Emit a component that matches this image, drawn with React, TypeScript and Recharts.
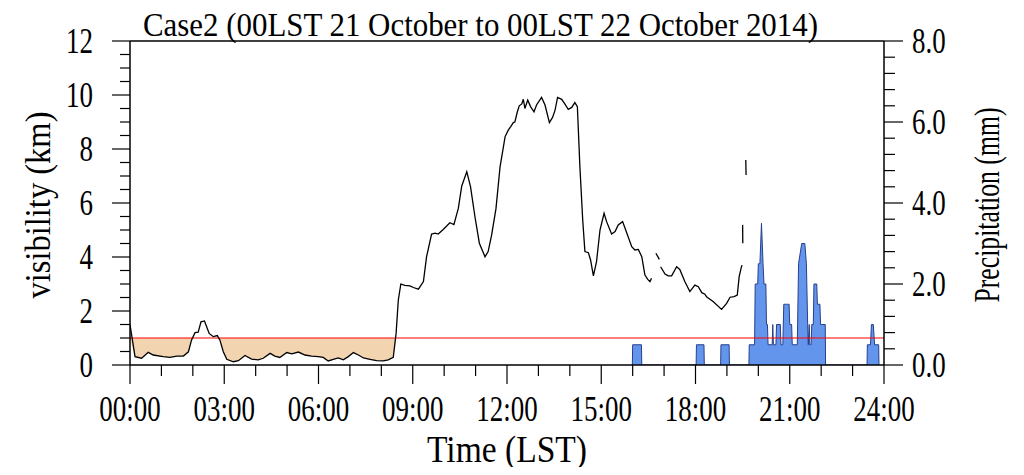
import { ComposedChart, Line, Area, XAxis, YAxis, ReferenceLine } from 'recharts'

// visibility (km), time in hours LST; null = missing
const visTime = [
  0, 0.16, 0.37, 0.58, 0.74, 1.06, 1.27, 1.49, 1.7, 1.86, 1.96, 2.07, 2.17, 2.26, 2.37, 2.44, 2.52, 2.65, 2.78, 2.86,
  2.97, 3.08, 3.29, 3.45, 3.66, 3.87, 4.08, 4.24, 4.46, 4.61, 4.77, 4.99, 5.15, 5.36, 5.57, 5.78, 5.99, 6.15, 6.31, 6.47,
  6.63, 6.79, 6.95, 7.11, 7.27, 7.43, 7.64, 7.85, 8.06, 8.22, 8.38, 8.47, 8.54, 8.62, 8.75, 8.91, 9.02, 9.18, 9.34, 9.44,
  9.6, 9.71, 9.81, 9.97, 10.18, 10.31, 10.45, 10.56, 10.72, 10.84, 10.98, 11.12, 11.3, 11.4, 11.51, 11.65, 11.78, 11.94, 12.04, 12.12,
  12.2, 12.25, 12.33, 12.39, 12.47, 12.52, 12.57, 12.66, 12.75, 12.86, 12.94, 13.1, 13.21, 13.35, 13.45, 13.53, 13.61, 13.74, 13.84, 13.95,
  14.06, 14.16, 14.24, 14.32, 14.41, 14.48, 14.59, 14.66, 14.75, 14.85, 14.96, 15.09, 15.17, 15.33, 15.44, 15.54, 15.68, 15.81, 15.97, 16.07,
  16.18, 16.29, 16.39, 16.48, 16.55, 16.6, 16.67, 16.74, 16.85, 16.87, 16.89, 17.03, 17.13, 17.24, 17.4, 17.5, 17.66, 17.82, 17.98, 18.09,
  18.2, 18.3, 18.35, 18.56, 18.83, 18.99, 19.1, 19.23, 19.33, 19.39, 19.45, 19.48, 19.49, 19.5, 19.505, 19.55, 19.6, 19.61, 19.65,
]
const visKm: (number | null)[] = [
  1.5, 0.31, 0.25, 0.47, 0.37, 0.31, 0.28, 0.33, 0.33, 0.49, 0.93, 1.2, 1.22, 1.6, 1.63, 1.42, 1.17, 1.05, 1.09, 0.93,
  0.49, 0.21, 0.12, 0.16, 0.35, 0.22, 0.19, 0.25, 0.43, 0.33, 0.28, 0.46, 0.41, 0.48, 0.37, 0.33, 0.31, 0.28, 0.15, 0.21,
  0.26, 0.19, 0.31, 0.46, 0.37, 0.26, 0.21, 0.16, 0.15, 0.19, 0.28, 1.17, 2.4, 3.0, 2.95, 2.93, 2.87, 2.81, 3.09, 4.01,
  4.85, 4.88, 4.85, 5.02, 5.27, 5.2, 5.8, 6.63, 7.16, 6.6, 5.49, 4.51, 4.01, 4.2, 4.81, 5.8, 7.35, 8.46, 8.7, 8.83,
  8.98, 9.0, 9.38, 9.6, 9.67, 9.84, 9.5, 9.81, 9.57, 9.38, 9.63, 9.91, 9.63, 8.98, 9.17, 9.44, 9.91, 9.84, 9.67, 9.47,
  9.54, 9.72, 9.57, 7.35, 5.37, 4.2, 4.16, 3.89, 3.3, 3.83, 5.0, 5.62, 5.31, 4.85, 4.94, 5.19, 5.31, 4.9, 4.38, 4.26,
  4.28, 4.01, 3.33, 3.17, 3.09, 3.21, null, 4.14, 3.91, null, 3.64, 3.37, 3.3, 3.3, 3.64, 3.54, 3.09, 2.72, 2.96, 2.9,
  2.68, 2.62, 2.53, 2.35, 2.06, 2.28, 2.51, 2.53, 2.59, 3.27, 3.58, 3.7, null, 5.19, 4.51, null, 7.59, 7.04, null,
]

// precipitation (mm), outline breakpoints
const rainTime = [
  15.99, 16.0, 16.28, 16.29,
  18.02, 18.03, 18.27, 18.28,
  18.8, 18.81, 19.07, 19.08,
  19.7, 19.71, 19.88, 19.9, 19.98, 20.0, 20.05, 20.1, 20.15, 20.18, 20.24, 20.26, 20.29, 20.31, 20.44, 20.46, 20.48, 20.56,
  20.58, 20.7, 20.72, 20.78, 20.81, 20.86, 20.89, 20.93, 20.98, 21.0, 21.06, 21.08, 21.24, 21.28, 21.38, 21.48, 21.53, 21.57, 21.59, 21.62,
  21.64, 21.68, 21.7, 21.75, 21.77, 21.86, 21.88, 21.96, 21.98, 22.13, 22.14,
  23.46, 23.47, 23.57, 23.6, 23.66, 23.7, 23.83, 23.84,
]
const rainMm = [
  0, 0.5, 0.5, 0,
  0, 0.5, 0.5, 0,
  0, 0.5, 0.5, 0,
  0, 0.5, 0.5, 2.0, 2.0, 2.5, 2.5, 3.5, 2.5, 2.0, 2.0, 1.0, 1.0, 0.5, 0.5, 1.0, 0.5, 0.5,
  1.0, 1.0, 0.5, 0.5, 1.5, 1.5, 1.5, 1.5, 1.5, 1.0, 1.0, 0.5, 0.5, 2.5, 3.0, 3.0, 2.5, 1.0, 0.5, 1.0,
  0.5, 0.5, 1.0, 1.0, 2.0, 2.0, 1.5, 1.5, 1.0, 1.0, 0,
  0, 0.5, 0.5, 1.0, 1.0, 0.5, 0.5, 0,
]

const hourTicks = [0, 1, 2, 3, 4, 5, 6, 7, 8, 9, 10, 11, 12, 13, 14, 15, 16, 17, 18, 19, 20, 21, 22, 23, 24]
const hourLabels: Record<number, string> = {
  0: '00:00', 3: '03:00', 6: '06:00', 9: '09:00', 12: '12:00', 15: '15:00', 18: '18:00', 21: '21:00', 24: '24:00',
}
const visTicks = [0, 0.5, 1, 1.5, 2, 2.5, 3, 3.5, 4, 4.5, 5, 5.5, 6, 6.5, 7, 7.5, 8, 8.5, 9, 9.5, 10, 10.5, 11, 11.5, 12]
const visLabels: Record<number, string> = { 0: '0', 2: '2', 4: '4', 6: '6', 8: '8', 10: '10', 12: '12' }
const rainTicks = [0, 0.4, 0.8, 1.2, 1.6, 2, 2.4, 2.8, 3.2, 3.6, 4, 4.4, 4.8, 5.2, 5.6, 6, 6.4, 6.8, 7.2, 7.6, 8]
const rainLabels: Record<number, string> = { 0: '0.0', 2: '2.0', 4: '4.0', 6: '6.0', 8: '8.0' }

const FOG_LIMIT = 1

const visData = visTime.map((t, i) => ({ t, vis: visKm[i] }))
const fogData = visTime
  .map((t, i) => ({ t, v: visKm[i] }))
  .filter((d) => d.v !== null && d.t < 8.6)
  .map((d) => ({ t: d.t, band: [Math.min(d.v as number, FOG_LIMIT), FOG_LIMIT] }))
const rainData = rainTime.map((t, i) => ({ t, rain: rainMm[i] }))

const FONT = '"Liberation Serif", "Times New Roman", serif'

function XTick({ x, y, payload }: any) {
  const v = payload.value
  const label = hourLabels[v]
  return (
    <g>
      <line x1={x} x2={x} y1={y} y2={y + (label ? 19 : 11)} stroke="#000" strokeWidth={1.2} />
      {label && (
        <text transform={`translate(${x},${y + 56}) scale(0.77,1)`} textAnchor="middle" fontSize={35} fontFamily={FONT} fill="#000">
          {label}
        </text>
      )}
    </g>
  )
}

function LeftTick({ x, y, payload }: any) {
  const label = visLabels[payload.value]
  return (
    <g>
      <line x1={x} x2={x - (label ? 18 : 10)} y1={y} y2={y} stroke="#000" strokeWidth={1.2} />
      {label && (
        <text transform={`translate(${x - 37},${y + 12}) scale(0.77,1)`} textAnchor="end" fontSize={35} fontFamily={FONT} fill="#000">
          {label}
        </text>
      )}
    </g>
  )
}

function RightTick({ x, y, payload }: any) {
  const v = payload.value
  const key = Math.round(v * 10) / 10
  const label = rainLabels[key]
  return (
    <g>
      <line x1={x} x2={x + (label ? 19 : 11)} y1={y} y2={y} stroke="#000" strokeWidth={1.2} />
      {label && (
        <text transform={`translate(${x + 28},${y + 12}) scale(0.77,1)`} textAnchor="start" fontSize={35} fontFamily={FONT} fill="#000">
          {label}
        </text>
      )}
    </g>
  )
}

const W = 1008
const H = 459

export default function App() {
  return (
    <div style={{ position: 'relative', width: W, height: H }}>
      <ComposedChart width={W} height={H} margin={{ top: 33, right: 0, left: 0, bottom: 0 }}>
        <XAxis
          dataKey="t"
          type="number"
          domain={[0, 24]}
          ticks={hourTicks}
          interval={0}
          tick={<XTick />}
          tickLine={false}
          tickSize={0}
          tickMargin={0}
          height={102}
          axisLine={{ stroke: '#000', strokeWidth: 1.5 }}
          allowDataOverflow
        />
        <YAxis
          yAxisId="left"
          domain={[0, 12]}
          ticks={visTicks}
          interval={0}
          tick={<LeftTick />}
          tickLine={false}
          tickSize={0}
          tickMargin={0}
          width={122}
          axisLine={{ stroke: '#000', strokeWidth: 1.5 }}
          allowDataOverflow
        />
        <YAxis
          yAxisId="right"
          orientation="right"
          domain={[0, 8]}
          ticks={rainTicks}
          interval={0}
          tick={<RightTick />}
          tickLine={false}
          tickSize={0}
          tickMargin={0}
          width={132}
          axisLine={{ stroke: '#000', strokeWidth: 1.5 }}
          allowDataOverflow
        />
        <Area
          yAxisId="left"
          data={fogData}
          dataKey="band"
          type="linear"
          fill="#f2d4b0"
          fillOpacity={1}
          stroke="none"
          isAnimationActive={false}
          dot={false}
          activeDot={false}
        />
        <Area
          yAxisId="right"
          data={rainData}
          dataKey="rain"
          type="linear"
          fill="#6495ed"
          fillOpacity={1}
          stroke="#27408b"
          strokeWidth={1}
          isAnimationActive={false}
          dot={false}
          activeDot={false}
        />
        <ReferenceLine yAxisId="left" y={FOG_LIMIT} stroke="#ff0000" strokeWidth={1.2} />
        <Line
          yAxisId="left"
          data={visData}
          dataKey="vis"
          type="linear"
          stroke="#000"
          strokeWidth={1.3}
          dot={false}
          activeDot={false}
          isAnimationActive={false}
        />
        <ReferenceLine yAxisId="left" y={12} stroke="#000" strokeWidth={1.5} />
      </ComposedChart>
      <svg width={W} height={H} style={{ position: 'absolute', left: 0, top: 0, pointerEvents: 'none', overflow: 'visible' }}>
        <text x={135} y={28} fontSize={33} fontFamily={FONT} textLength={675} lengthAdjust="spacingAndGlyphs" fill="#000">
          Case2 (00LST 21 October to 00LST 22 October 2014)
        </text>
        <text x={499} y={454} fontSize={38} fontFamily={FONT} textAnchor="middle" textLength={160} lengthAdjust="spacingAndGlyphs" fill="#000">
          Time (LST)
        </text>
        <text transform="translate(42,197) rotate(-90)" fontSize={36} fontFamily={FONT} textAnchor="middle" textLength={187} lengthAdjust="spacingAndGlyphs" fill="#000">
          visibility (km)
        </text>
        <text transform="translate(991,197) rotate(-90)" fontSize={36} fontFamily={FONT} textAnchor="middle" textLength={195} lengthAdjust="spacingAndGlyphs" fill="#000">
          Precipitation (mm)
        </text>
      </svg>
    </div>
  )
}
